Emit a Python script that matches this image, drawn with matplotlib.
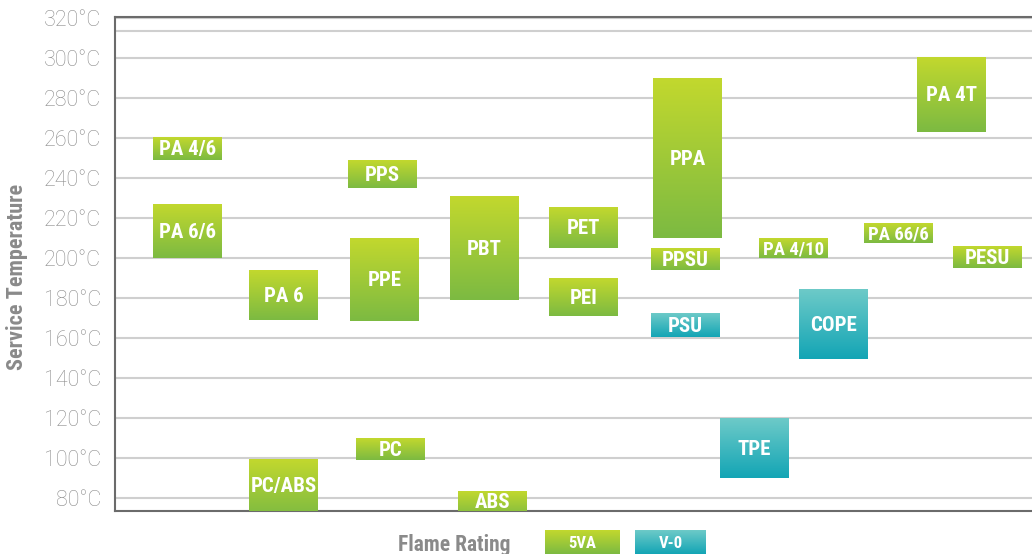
import numpy as np
import matplotlib
matplotlib.use("Agg")
import matplotlib.pyplot as plt
from matplotlib.colors import LinearSegmentedColormap

# ---- data ----
materials = ["PA 4/6", "PA 6/6", "PA 6", "PC/ABS", "PPS", "PPE", "PC", "PBT", "ABS",
             "PET", "PEI", "PPA", "PPSU", "PSU", "TPE", "PA 4/10", "COPE", "PA 66/6",
             "PA 4T", "PESU"]
temp_low = [249, 200, 169, 70, 235, 168.5, 99, 179, 70,
            205, 171, 210, 194, 160.5, 90, 200, 149.5, 207.5,
            263, 195]
temp_high = [260.5, 227, 194, 99.5, 249, 210, 110, 231, 83.5,
             225.5, 190, 290, 205, 172.5, 120, 210, 184.5, 217.5,
             300.5, 206]
rating = ["5VA", "5VA", "5VA", "5VA", "5VA", "5VA", "5VA", "5VA", "5VA",
          "5VA", "5VA", "5VA", "5VA", "V-0", "V-0", "5VA", "V-0", "5VA",
          "5VA", "5VA"]
y_ticks = [80, 100, 120, 140, 160, 180, 200, 220, 240, 260, 280, 300, 320]
y_tick_labels = [f"{t}°C" for t in y_ticks]

# ---- layout (column slot positions) ----
x_pos = [0.725, 0.725, 1.685, 1.685, 2.673, 2.693, 2.755, 3.693, 3.773,
         4.685, 4.685, 5.725, 5.703, 5.703, 6.395, 6.785, 7.185, 7.835,
         8.365, 8.725]
bar_w = 0.69
small_label = {"PA 4/10", "PA 66/6"}

green = LinearSegmentedColormap.from_list("g", ["#7cba42", "#c2d82e"])
teal = LinearSegmentedColormap.from_list("t", ["#13a5b5", "#6dcac8"])
cmaps = {"5VA": green, "V-0": teal}

FAM = ["Liberation Sans Narrow", "Roboto Condensed", "DejaVu Sans"]
LIGHT = ["Roboto", "Lato", "DejaVu Sans"]

fig = plt.figure(figsize=(10.32, 5.54), dpi=100)
ax = fig.add_axes([115/1032, 43/554, 1 - 115/1032, (511-17)/554])
ax.set_xlim(0, 9.17)
ax.set_ylim(73.5, 320.5)

grad = np.linspace(0, 1, 128).reshape(-1, 1)

for name, lo, hi, r, x in zip(materials, temp_low, temp_high, rating, x_pos):
    bars = ax.bar(x, hi - lo, bottom=lo, width=bar_w, color="none", edgecolor="none", zorder=3)
    b = bars[0]
    x0, y0 = b.get_x(), b.get_y()
    im = ax.imshow(grad, extent=[x0, x0 + b.get_width(), y0, y0 + b.get_height()],
                   origin="lower", cmap=cmaps[r], aspect="auto", zorder=3,
                   interpolation="bilinear")
    im.set_clip_path(ax.patch)
    ymid = (max(lo, 73.5) + min(hi, 320.5)) / 2 - 0.6
    ax.text(x, ymid, name, ha="center", va="center", color="white",
            fontsize=13.5 if name in small_label else 15, fontweight="bold",
            family=FAM, zorder=4)

ax.set_xlim(0, 9.17)
ax.set_ylim(73.5, 320.5)

ax.set_yticks(y_ticks)
ax.set_yticklabels(y_tick_labels, family=LIGHT, fontweight="light", fontsize=15.5, color="#8c8c8c")
ax.tick_params(axis="y", length=0, pad=10)
ax.set_xticks([])
ax.grid(axis="y", color="#cfcfcf", linewidth=1.5, zorder=0)
ax.axhline(313.5, color="#cfcfcf", linewidth=1.5, zorder=0)
ax.set_axisbelow(True)
for s in ["left", "bottom", "top"]:
    ax.spines[s].set_color("#6b6b6b")
    ax.spines[s].set_linewidth(1.5)
ax.spines["right"].set_visible(False)

fig.text(17/1032, 1 - 277/554, "Service Temperature", rotation=90, ha="center", va="center",
         fontsize=16, fontweight="bold", color="#8a8a8a", family=FAM)

# legend
fig.text(510/1032, 1 - 545/554, "Flame Rating", ha="right", va="center",
         fontsize=15.5, fontweight="bold", color="#8a8a8a", family=FAM)
for lab, lx0, lx1 in [("5VA", 545, 619), ("V-0", 635, 706)]:
    lax = fig.add_axes([lx0/1032, 0, (lx1 - lx0)/1032, 24/554])
    lax.imshow(grad, origin="lower", cmap=cmaps[lab], aspect="auto", extent=[0, 1, 0, 1],
               interpolation="bilinear")
    lax.set_xlim(0, 1)
    lax.set_ylim(0, 1)
    lax.axis("off")
    lax.text(0.5, 0.42, lab, ha="center", va="center", color="white", fontsize=12,
             fontweight="bold", family=FAM)

fig.savefig("out.png", dpi=100)
